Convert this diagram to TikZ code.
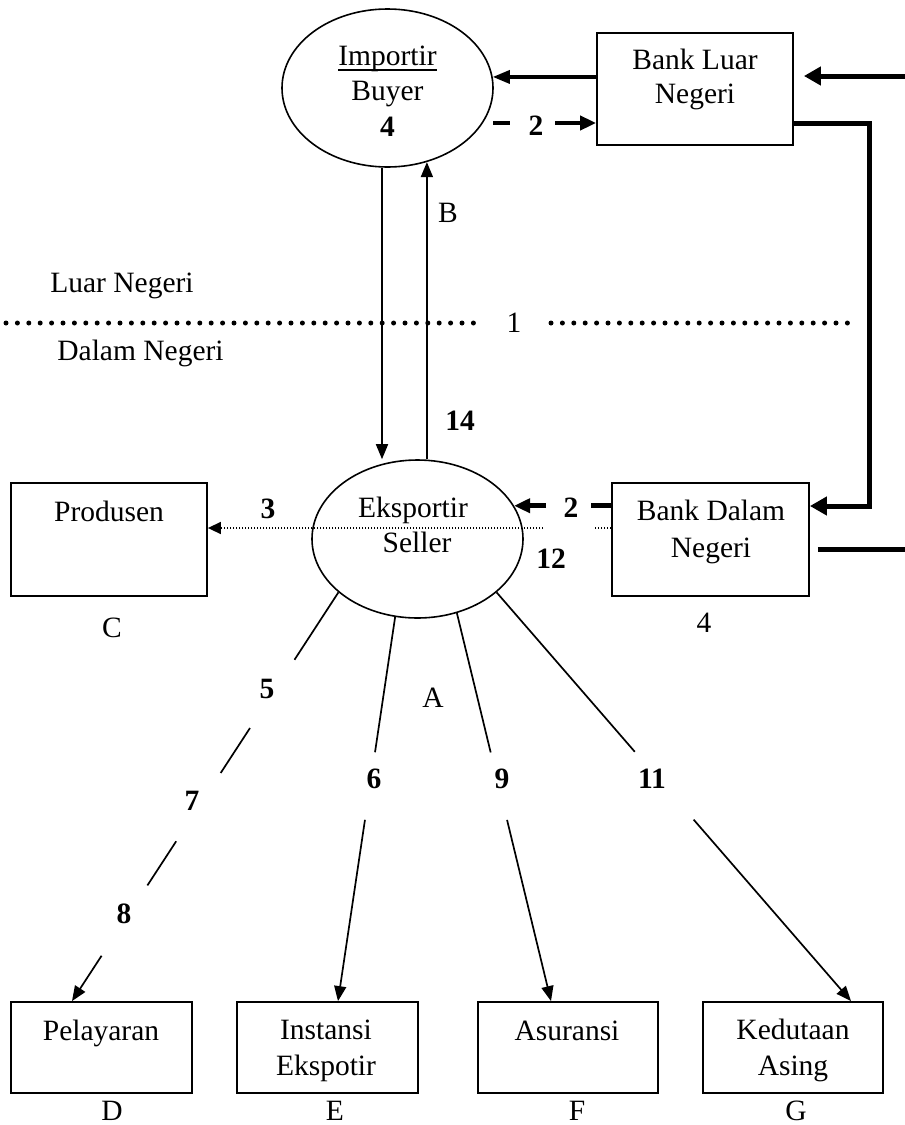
\documentclass[tikz,border=0pt]{standalone}
\usepackage{fontspec}
\setmainfont{Liberation Serif}
\usetikzlibrary{shapes.geometric, arrows.meta, calc}
\begin{document}
\begin{tikzpicture}[x=1pt,y=-1pt,
  every node/.style={font=\fontsize{29.5}{35}\selectfont},
  box/.style={draw, line width=1.8pt, rectangle, inner sep=0pt},
  oval/.style={draw, line width=1.6pt, ellipse, inner sep=0pt, minimum width=211pt, minimum height=158pt},
  txt/.style={inner sep=0pt, anchor=base},
  num/.style={inner sep=0pt, anchor=base, font=\fontsize{29.5}{35}\selectfont\bfseries},
  thinln/.style={line width=1.7pt},
  thinarr/.style={line width=1.7pt, -{Triangle[length=15pt,width=12pt]}},
  midarr/.style={line width=3.3pt, -{Triangle[length=17pt,width=13pt]}},
  fatln/.style={line width=5pt},
  fatarr/.style={line width=5pt, -{Triangle[length=17pt,width=18pt]}},
  dashtwo/.style={line width=4.5pt, -{Triangle[length=16pt,width=14pt]}},
  dotsep/.style={line width=5pt, line cap=round, dash pattern=on 0pt off 11.4pt},
  fine/.style={line width=1.5pt, dash pattern=on 1.5pt off 1.5pt},
]
\useasboundingbox (0,0) rectangle (905,1125);

% ---- shapes
\node[oval] (imp) at (387.5,88) {};
\node[box, minimum width=196pt, minimum height=112pt] (bl) at (695,89) {};
\node[box, minimum width=196pt, minimum height=113pt] (prod) at (109,539.5) {};
\node[oval] (eks) at (417.5,539) {};
\node[box, minimum width=197pt, minimum height=113pt] (bd) at (710.5,539.5) {};
\node[box, minimum width=181pt, minimum height=91pt] (pel) at (101.5,1047.5) {};
\node[box, minimum width=181pt, minimum height=91pt] (ins) at (327.5,1047.5) {};
\node[box, minimum width=180pt, minimum height=91pt] (asu) at (568,1047.5) {};
\node[box, minimum width=180pt, minimum height=91pt] (ked) at (793,1047.5) {};

% ---- texts
\node[txt] (impt1) at (387.5,65) {Importir};
\draw[line width=1.5pt] ($(impt1.base west)+(0,5)$) -- ($(impt1.base east)+(0,5)$);
\node[txt] (impt2) at (387.5,100) {Buyer};
\node[num] (impt3) at (387.5,136) {4};
\node[txt] (blt1) at (695,69) {Bank Luar};
\node[txt] (blt2) at (695,103) {Negeri};
\node[txt] (prodt) at (109,521) {Produsen};
\node[txt] (lblC) at (112,637) {C};
\node[txt] (ekst1) at (413,517) {Eksportir};
\node[txt] (ekst2) at (417,552) {Seller};
\node[txt] (bdt1) at (711,520) {Bank Dalam};
\node[txt] (bdt2) at (711,557) {Negeri};
\node[txt] (lbl4) at (704,632) {4};
\node[txt] (pelt) at (101,1040) {Pelayaran};
\node[txt] (inst1) at (326,1039) {Instansi};
\node[txt] (inst2) at (326,1075) {Ekspotir};
\node[txt] (asut) at (567,1040) {Asuransi};
\node[txt] (kedt1) at (793,1039) {Kedutaan};
\node[txt] (kedt2) at (793,1075) {Asing};
\node[txt] (lblD) at (112,1120) {D};
\node[txt] (lblE) at (335,1120) {E};
\node[txt] (lblF) at (577,1120) {F};
\node[txt] (lblG) at (796,1120) {G};
\node[txt] (luar) at (122,292) {Luar Negeri};
\node[txt] (dalam) at (140.5,360) {Dalam Negeri};
\node[txt] (one) at (514,332) {1};
\node[txt] (lblB) at (448,222) {B};
\node[txt] (lblA) at (433,707) {A};
\node[num] (n2a) at (536,135) {2};
\node[num] (n14) at (460,430) {14};
\node[num] (n3) at (268,518) {3};
\node[num] (n2b) at (571,517) {2};
\node[num] (n12) at (551,568) {12};
\node[num] (n5) at (267,698) {5};
\node[num] (n6) at (374,788) {6};
\node[num] (n9) at (502,788) {9};
\node[num] (n11) at (652,788) {11};
\node[num] (n7) at (192,810) {7};
\node[num] (n8) at (124,923) {8};

% ---- coordinates
\coordinate (xa) at (382,0);
\coordinate (d2s) at (493,123);
\coordinate (y528) at (0,528);
\coordinate (g1) at (594,528);
\coordinate (g2) at (543,528);
\coordinate (rin) at (905,76);
\coordinate (y123) at (0,123);
\coordinate (xr) at (869,0);
\coordinate (y506) at (0,506);
\coordinate (rout) at (905,549);
\coordinate (da1) at (6,323);
\coordinate (da2) at (479,323);
\coordinate (db1) at (551,323);
\coordinate (db2) at (854,323);

% ---- separator
\draw[dotsep] (da1) -- (da2);
\draw[dotsep] (db1) -- (db2);

% ---- importir <-> eksportir
\draw[thinarr] (imp.south -| xa) -- (eks.north -| xa);
\draw[thinarr] (eks.north -| imp.-62) -- (imp.-62);

% ---- bank luar <-> importir
\draw[midarr] (bl.west |- imp.6) -- (imp.6);
\draw[dashtwo, dash pattern=on 17pt off 45pt on 80pt] (d2s) -- (bl.west |- d2s);

% ---- bank links
\draw[fatarr, shorten >=10pt] (rin) -- (bl.east |- rin);
\draw[fatarr] (bl.east |- y123) -| (xr |- y506) -- (bd.east |- y506);
\draw[fatln, shorten <=8pt] (bd.east |- rout) -- (rout);

% ---- bank dalam -> eksportir
\draw[dashtwo, dash pattern=on 20pt off 45pt on 80pt] (bd.west |- eks.19) -- (eks.19);

% ---- dotted to produsen
\draw[fine] (bd.west |- y528) -- (g1);
\draw[fine, -{Triangle[length=13pt,width=12pt]}] (g2) -- (prod.east |- y528);

% ---- lower connectors
\coordinate (p0) at (eks.-146);
\coordinate (p1) at ($(pel.north)+(-29.5,0)$);
\draw[thinln] (p0) -- ($(p0)!0.165!(p1)$);
\draw[thinln] ($(p0)!0.332!(p1)$) -- ($(p0)!0.442!(p1)$);
\draw[thinln] ($(p0)!0.609!(p1)$) -- ($(p0)!0.717!(p1)$);
\draw[thinarr] ($(p0)!0.889!(p1)$) -- (p1);

\coordinate (q0) at (eks.-106);
\coordinate (q1) at ($(ins.north)+(10.5,0)$);
\draw[thinln] (q0) -- ($(q0)!0.352!(q1)$);
\draw[thinarr] ($(q0)!0.528!(q1)$) -- (q1);

\coordinate (r0) at (eks.-62);
\coordinate (r1) at ($(asu.north)+(-17,0)$);
\draw[thinln] (r0) -- ($(r0)!0.359!(r1)$);
\draw[thinarr] ($(r0)!0.533!(r1)$) -- (r1);

\coordinate (s0) at (eks.-34);
\coordinate (s1) at ($(ked.north)+(58,0)$);
\draw[thinln] (s0) -- ($(s0)!0.39!(s1)$);
\draw[thinarr] ($(s0)!0.556!(s1)$) -- (s1);
\end{tikzpicture}
\end{document}
